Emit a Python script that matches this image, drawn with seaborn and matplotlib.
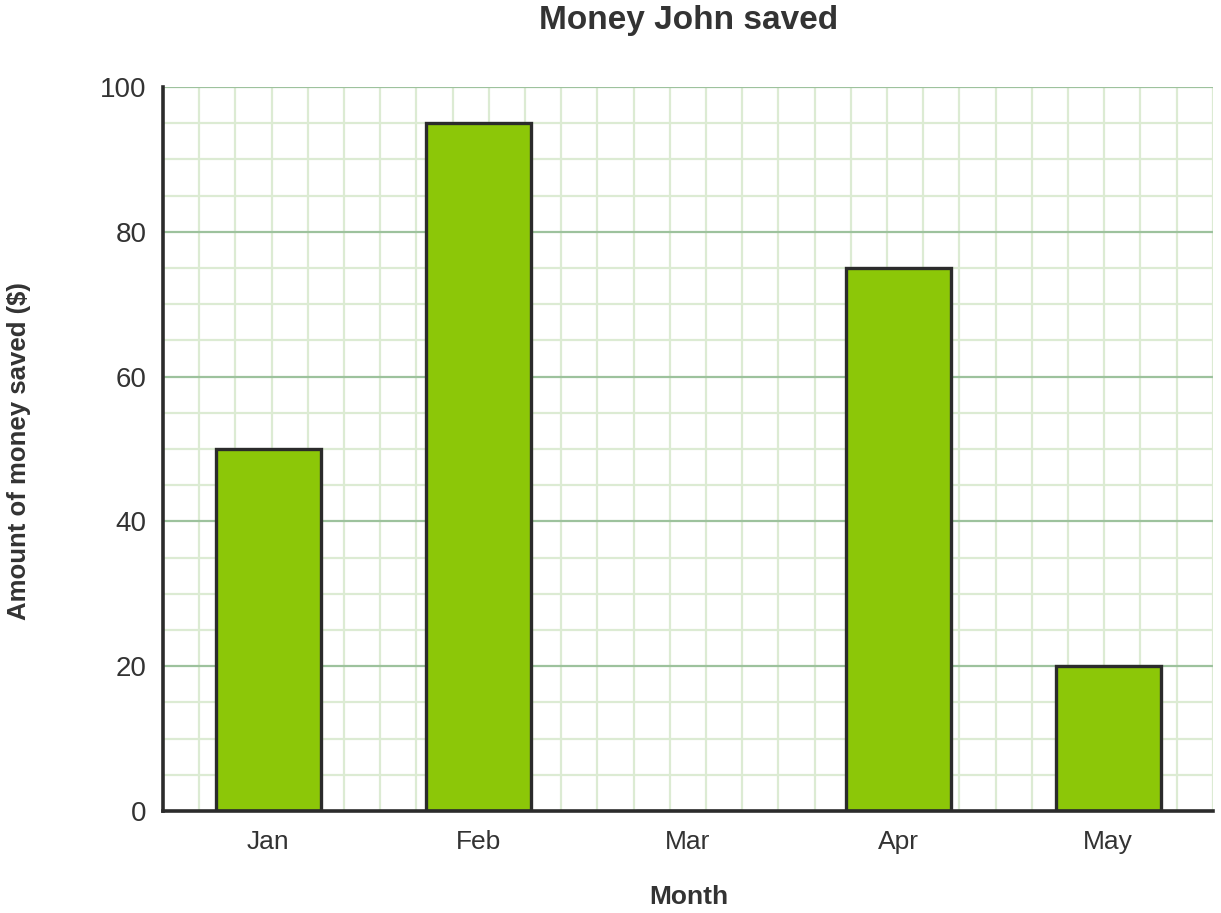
import numpy as np
import pandas as pd
import seaborn as sns
import matplotlib.pyplot as plt

mois = ["Jan", "Feb", "Mar", "Apr", "May"]
economies = [50, 95, 0, 75, 20]
yticks = [0, 20, 40, 60, 80, 100]

df = pd.DataFrame({"Month": mois, "Saved": economies})

sns.set_theme(style="white")
plt.rcParams['font.family'] = ['Liberation Sans', 'DejaVu Sans']

fig = plt.figure(figsize=(12.21, 9.13), dpi=100)
ax = fig.add_axes([163 / 1221, 1 - 811 / 913, 1050 / 1221, 724 / 913])

# grille carree : mineure tous les 5, majeure tous les 20
ax.set_ylim(0, 100)
ax.set_xlim(-0.5, 4.5)
step_x = 5 / (1050 / (724 / 20))
for xv in np.arange(-0.5 + step_x, 4.5 + 1e-6, step_x):
    ax.axvline(xv, color="#dcebd3", lw=1.6, zorder=0)
for yv in range(5, 101, 5):
    if yv % 20:
        ax.axhline(yv, color="#dcebd3", lw=1.6, zorder=0)
for yv in yticks[1:]:
    ax.axhline(yv, color="#9dc29d", lw=1.6, zorder=0.5)

sns.barplot(data=df, x="Month", y="Saved", color="#8cc708", saturation=1,
            width=0.5, edgecolor="#2b2b2b", linewidth=2.4, ax=ax, zorder=2)
ax.set_xlim(-0.5, 4.5)
ax.set_ylim(0, 100)

ax.set_yticks(yticks)
ax.tick_params(axis="y", labelsize=20, labelcolor="#333333", length=0, pad=12)
ax.tick_params(axis="x", labelsize=19, labelcolor="#333333", length=0, pad=14)

for s in ["top", "right"]:
    ax.spines[s].set_visible(False)
for s in ["left", "bottom"]:
    ax.spines[s].set_color("#2b2b2b")
    ax.spines[s].set_linewidth(2.6)
    ax.spines[s].set_zorder(3)

ax.set_xlabel("")
ax.set_ylabel("")
fig.text(689 / 1221, 1 - 897 / 913, "Month", ha="center", va="center",
         fontsize=19, fontweight="bold", color="#333333")
fig.text(19 / 1221, 1 - 451 / 913, "Amount of money saved ($)", ha="center",
         va="center", rotation=90, fontsize=18.5, fontweight="bold", color="#333333")
fig.text(689 / 1221, 1 - 20 / 913, "Money John saved", ha="center", va="center",
         fontsize=24, fontweight="bold", color="#333333")

fig.savefig("out.png", dpi=100, facecolor="white")
